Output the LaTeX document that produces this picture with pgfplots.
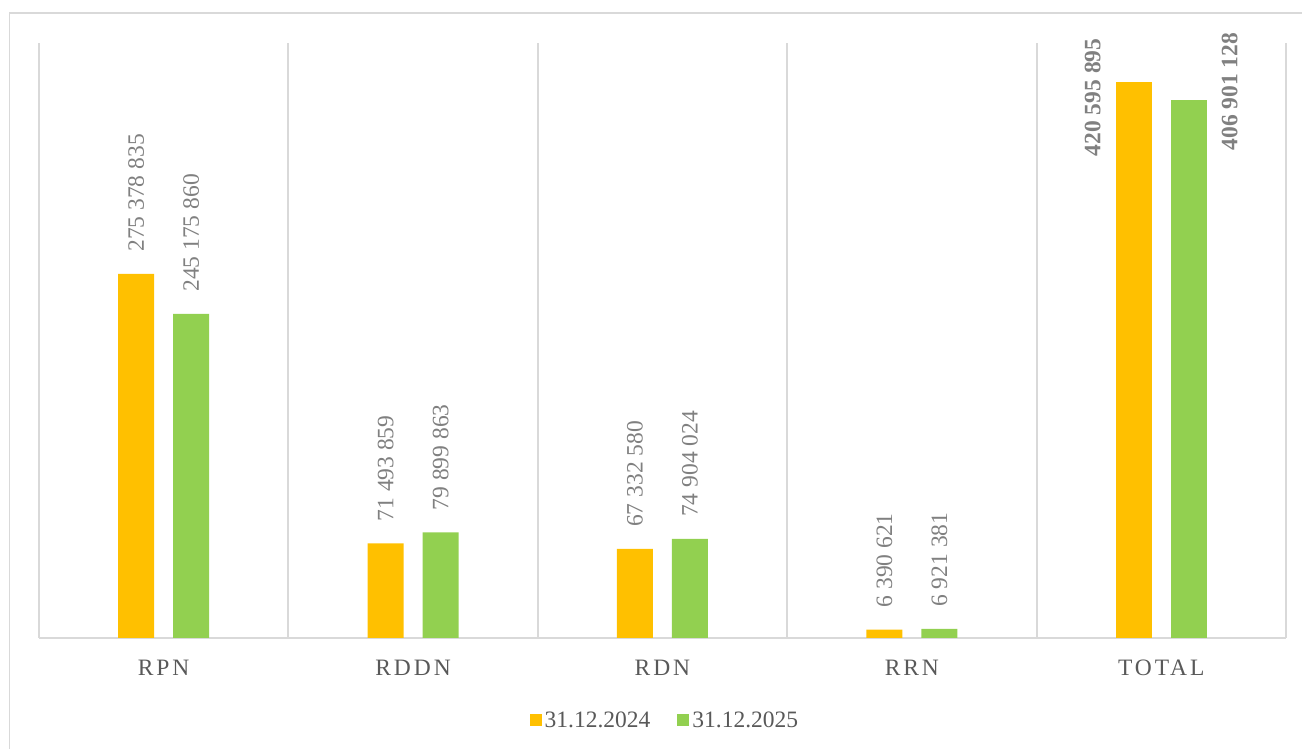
\documentclass[border=0pt]{standalone}
\usepackage{fontspec}
\setmainfont{Liberation Serif}
\newfontfamily\spacedfont{Liberation Serif}[LetterSpace=12.5]
\usepackage{pgfplots}
\usepackage{pgfplotstable}
\pgfplotsset{compat=1.18}
\definecolor{orn}{HTML}{FFC000}
\definecolor{grn}{HTML}{92D050}
\definecolor{gridc}{HTML}{D9D9D9}
\definecolor{labc}{HTML}{808080}
\definecolor{txt}{HTML}{595959}

\pgfplotstableread[col sep=comma]{
x,y,lab
0,275.378835,275 378 835
1,71.493859,71 493 859
2,67.332580,67 332 580
3,6.390621,6 390 621
}\dataA
\pgfplotstableread[col sep=comma]{
x,y,lab
0,245.175860,245 175 860
1,79.899863,79 899 863
2,74.904024,74 904 024
3,6.921381,6 921 381
}\dataB
\pgfplotstableread[col sep=comma]{
x,y,lab
4,420.595895,420 595 895
}\totA
\pgfplotstableread[col sep=comma]{
x,y,lab
4,406.901128,406 901 128
}\totB

\newcommand{\lf}{\fontsize{23.5}{28}\selectfont}

\begin{document}
\begin{tikzpicture}
\useasboundingbox (0,0) rectangle (1302pt,749pt);
\draw[gridc, line width=1.8pt] (9.5pt,-2pt) -- (9.5pt,736pt) -- (1306pt,736pt);
\begin{axis}[
  at={(39pt,111pt)}, anchor=south west, scale only axis,
  width=1247pt, height=595pt,
  xmin=-0.5, xmax=4.5, ymin=0, ymax=450,
  axis x line*=bottom, axis y line=none,
  x axis line style={gridc, line width=2.2pt, -},
  xtick={0,1,2,3,4}, xticklabels={RPN,RDDN,RDN,RRN,TOTAL},
  minor xtick={-0.5,0.5,1.5,2.5,3.5,4.5},
  xminorgrids, minor grid style={gridc, line width=2pt},
  major tick length=0pt, minor tick length=0pt,
  xticklabel style={font=\spacedfont\lf, text=txt, anchor=base, yshift=-38pt},
  clip=false,
  ybar, bar width=36pt,
  point meta=explicit symbolic,
  legend style={at={(0.5,-0.1378)}, xshift=3pt, anchor=center, draw=none, fill=none,
    legend columns=2, font=\lf, text=txt,
    nodes={inner xsep=3pt, inner ysep=2pt},
    /tikz/every even column/.append style={column sep=24pt}},
  legend image code/.code={\fill[#1] (0pt,-6pt) rectangle (12pt,6pt);},
]
\addplot[fill=orn, draw=none, bar shift=-27.5pt,
  nodes near coords,
  nodes near coords style={rotate=90, anchor=west, inner xsep=22pt, inner ysep=0pt, font=\lf, text=labc}]
  table[x=x, y=y, meta=lab]{\dataA};
\addlegendentry{31.12.2024}
\addplot[fill=grn, draw=none, bar shift=27.5pt,
  nodes near coords,
  nodes near coords style={rotate=90, anchor=west, inner xsep=22pt, inner ysep=0pt, font=\lf, text=labc}]
  table[x=x, y=y, meta=lab]{\dataB};
\addlegendentry{31.12.2025}
\addplot[forget plot, fill=orn, draw=none, bar shift=-27.5pt,
  nodes near coords,
  nodes near coords style={xshift=-41pt, yshift=-15.5pt, rotate=90, anchor=center, inner sep=0pt, font=\lf\bfseries, text=labc}]
  table[x=x, y=y, meta=lab]{\totA};
\addplot[forget plot, fill=grn, draw=none, bar shift=27.5pt,
  nodes near coords,
  nodes near coords style={xshift=41pt, yshift=8.5pt, rotate=90, anchor=center, inner sep=0pt, font=\lf\bfseries, text=labc}]
  table[x=x, y=y, meta=lab]{\totB};
\end{axis}
\end{tikzpicture}
\end{document}
